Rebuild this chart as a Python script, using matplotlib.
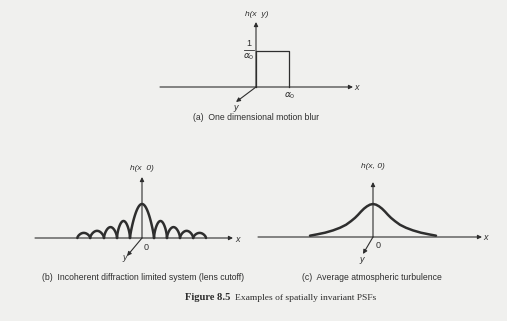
import numpy as np
import matplotlib
matplotlib.use("Agg")
from matplotlib import pyplot as plt

# (b) diffraction limited PSF: zero crossings (in lobe units) and lobe heights
lobe_zeros = [-5.05, -4.05, -2.97, -1.95, -0.94, 0.94, 1.95, 2.97, 4.0, 5.0]
lobe_heights = [0.15, 0.21, 0.32, 0.5, 1.0, 0.5, 0.32, 0.21, 0.15]

# (c) atmospheric turbulence profile, one side (mirrored)
turb_offset = [0, 0.3, 0.6, 0.9, 1.2, 1.5, 1.8, 2.2, 2.7, 3.3, 4.0, 4.8, 5.6, 6.3]
turb_height = [1.0, 0.98, 0.93, 0.86, 0.77, 0.67, 0.58, 0.48, 0.37, 0.28, 0.2, 0.13, 0.08, 0.04]

# (a) motion blur box
blur_x = [0, 0, 1, 1]
blur_y = [0, 1, 1, 0]

W, H = 507, 321
ink = '#2e2e2e'
paper = '#f0f0ee'

fig = plt.figure(figsize=(W / 100, H / 100), dpi=100, facecolor=paper)
bg = fig.add_axes([0, 0, 1, 1])
bg.set_xlim(0, W)
bg.set_ylim(H, 0)
bg.axis('off')


def panel_axes(ox, oy, sx, sy, xlim, ylim):
    # axes whose data origin sits at pixel (ox, oy)
    x0, x1 = xlim
    y0, y1 = ylim
    ax = fig.add_axes([(ox + x0 * sx) / W, (H - (oy - y0 * sy)) / H,
                       (x1 - x0) * sx / W, (y1 - y0) * sy / H])
    ax.set_xlim(xlim)
    ax.set_ylim(ylim)
    ax.axis('off')
    ax.patch.set_alpha(0)
    return ax


def arrow(x0, y0, x1, y1):
    bg.annotate('', xy=(x1, y1), xytext=(x0, y0),
                arrowprops=dict(arrowstyle='-|>', mutation_scale=6, lw=0.8,
                                color=ink, shrinkA=0, shrinkB=0))


lab = dict(family='Liberation Sans', color=ink)

# ---------- (a) ----------
arrow(160, 87, 353, 87)
arrow(256, 87, 256, 22)
arrow(256, 87, 236, 102)
axa = panel_axes(256, 87, 33, 36, (-0.2, 1.2), (-0.1, 1.1))
axa.plot(blur_x, blur_y, color=ink, lw=0.9)
bg.text(257, 14, 'h(x  y)', ha='center', va='center', fontsize=6, style='italic', **lab)
bg.text(249, 44, '1', ha='center', va='center', fontsize=6.5, **lab)
bg.plot([244, 254], [50, 50], color=ink, lw=0.6)
bg.text(249, 57, r'$\alpha_0$', ha='center', va='center', fontsize=6.5, color=ink)
bg.text(290, 96, r'$\alpha_0$', ha='center', va='center', fontsize=6.5, color=ink)
bg.text(357, 88, 'x', ha='center', va='center', fontsize=6.5, style='italic', **lab)
bg.text(236, 108, 'y', ha='center', va='center', fontsize=6.5, style='italic', **lab)
bg.text(193, 117, '(a)  One dimensional motion blur', ha='left', va='center', fontsize=6.2, **lab)

# ---------- (b) ----------
arrow(35, 238, 233, 238)
arrow(142, 238, 142, 177)
arrow(142, 238, 127, 256)
axb = panel_axes(142, 238, 12.8, 34, (-6, 6), (-0.1, 1.1))
t = np.linspace(0, np.pi, 60)
for a, b, h in zip(lobe_zeros[:-1], lobe_zeros[1:], lobe_heights):
    shape = np.sin(t) ** (0.8 if h == 1.0 else 0.6)
    axb.plot(np.linspace(a, b, 60), h * shape, color=ink, lw=1.8, solid_capstyle='round')
bg.text(142, 168, 'h(x  0)', ha='center', va='center', fontsize=6, style='italic', **lab)
bg.text(146, 247, '0', ha='center', va='center', fontsize=6.5, **lab)
bg.text(125, 258, 'y', ha='center', va='center', fontsize=6.5, style='italic', **lab)
bg.text(238, 239, 'x', ha='center', va='center', fontsize=6.5, style='italic', **lab)
bg.text(42, 278, '(b)  Incoherent diffraction limited system (lens cutoff)', ha='left',
        va='center', fontsize=6.2, **lab)

# ---------- (c) ----------
arrow(258, 237, 482, 237)
arrow(373, 237, 373, 182)
arrow(373, 237, 363, 254)
axc = panel_axes(373, 237, 10, 33, (-7, 7), (-0.1, 1.1))
tx = np.concatenate([-np.array(turb_offset[::-1]), turb_offset[1:]])
ty = np.concatenate([turb_height[::-1], turb_height[1:]])
axc.plot(tx, ty, color=ink, lw=1.8, solid_capstyle='round', solid_joinstyle='round')
bg.text(373, 167, 'h(x, 0)', ha='center', va='center', fontsize=6, style='italic', **lab)
bg.text(378, 246, '0', ha='center', va='center', fontsize=6.5, **lab)
bg.text(362, 259, 'y', ha='center', va='center', fontsize=6.5, style='italic', **lab)
bg.text(486, 238, 'x', ha='center', va='center', fontsize=6.5, style='italic', **lab)
bg.text(302, 277, '(c)  Average atmospheric turbulence', ha='left', va='center',
        fontsize=6.2, **lab)

# ---------- figure caption ----------
bg.text(230, 298, 'Figure 8.5', ha='right', va='center', fontsize=7.6, weight='bold',
        family='Liberation Serif', color=ink)
bg.text(235, 298, 'Examples of spatially invariant PSFs', ha='left', va='center',
        fontsize=6.8, family='Liberation Serif', color=ink)

fig.savefig('out.png', dpi=100, facecolor=paper)
